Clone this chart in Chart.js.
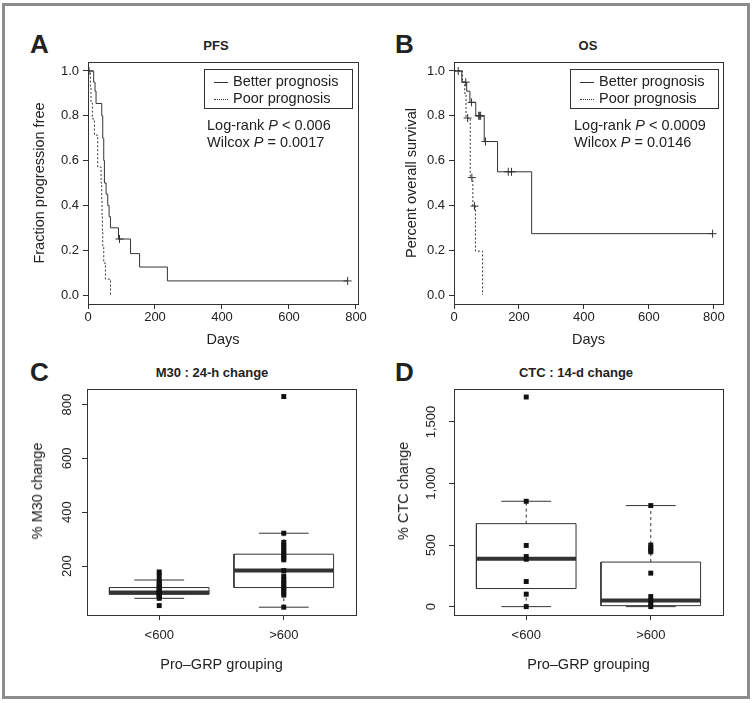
<!DOCTYPE html>
<html lang="en">
<head>
<meta charset="UTF-8">
<title>Pro-GRP prognosis panels</title>
<script src="https://cdn.jsdelivr.net/npm/chart.js@4.4.0/dist/chart.umd.min.js"></script>
<style>
  body { margin: 0; background: #fff; font-family: 'Liberation Sans', Arial, sans-serif; color: #222; }
  #page { position: relative; width: 755px; height: 703px; overflow: hidden; }
  #frame { position: absolute; left: 2px; top: 3px; width: 742px; height: 690px; border: 3px solid #8c8c8c; }
  .panel { position: absolute; }
  .letter { position: absolute; font-weight: bold; font-size: 26px; line-height: 26px; }
  .ptitle { position: absolute; font-weight: bold; font-size: 13px; white-space: nowrap; transform: translate(-50%, -50%); }
  .legend { position: absolute; border: 1px solid #333; background: #fff; font-size: 14.5px; }
  .legend .row { position: absolute; left: 9px; line-height: 17px; white-space: nowrap; }
  .swatch { display: inline-block; width: 14px; border-top: 1px solid #333; vertical-align: middle; margin-right: 5px; }
  .swatch.dot { border-top-style: dotted; }
  .note { position: absolute; font-size: 14.5px; line-height: 17px; white-space: nowrap; }
  .ytitle { position: absolute; font-size: 14.5px; white-space: nowrap; transform: translate(-50%, -50%) rotate(-90deg); }
</style>
</head>
<body>
<div id="page">
  <div id="frame"></div>

  <div class="letter" style="left:30px;top:31px">A</div>
  <div class="letter" style="left:395px;top:31px">B</div>
  <div class="letter" style="left:30px;top:359px">C</div>
  <div class="letter" style="left:395px;top:359px">D</div>

  <div class="ptitle" style="left:216px;top:45px">PFS</div>
  <div class="ptitle" style="left:588px;top:45px">OS</div>
  <div class="ptitle" style="left:212px;top:372px">M30 : 24-h change</div>
  <div class="ptitle" style="left:576px;top:372px">CTC : 14-d change</div>

  <div class="panel" style="left:0;top:50px"><canvas id="pfs" width="377" height="300"></canvas></div>
  <div class="panel" style="left:377px;top:50px"><canvas id="os" width="378" height="300"></canvas></div>
  <div class="panel" style="left:0;top:350px"><canvas id="m30" width="377" height="353"></canvas></div>
  <div class="panel" style="left:377px;top:350px"><canvas id="ctc" width="378" height="353"></canvas></div>

  <div class="legend" style="left:204px;top:69px;width:147px;height:38px">
    <div class="row" style="top:3px"><span class="swatch"></span>Better prognosis</div>
    <div class="row" style="top:20px"><span class="swatch dot"></span>Poor prognosis</div>
  </div>
  <div class="note" style="left:207px;top:117px">Log-rank <i>P</i> &lt; 0.006</div>
  <div class="note" style="left:207px;top:134px">Wilcox <i>P</i> = 0.0017</div>

  <div class="legend" style="left:570px;top:69px;width:147px;height:38px">
    <div class="row" style="top:3px"><span class="swatch"></span>Better prognosis</div>
    <div class="row" style="top:20px"><span class="swatch dot"></span>Poor prognosis</div>
  </div>
  <div class="note" style="left:574px;top:117px">Log-rank <i>P</i> &lt; 0.0009</div>
  <div class="note" style="left:574px;top:134px">Wilcox <i>P</i> = 0.0146</div>

  <div class="ytitle" style="left:37px;top:491px">% M30 change</div>
  <div class="ytitle" style="left:403px;top:491px">% CTC change</div>
</div>

<script>
// ---- data ----
// PFS (panel A)
var pfsBetterDays = [0, 17, 21, 24, 41, 44, 47, 49, 54, 59, 63, 67, 91, 127, 154, 237, 775];
var pfsBetterSurv = [1, 0.95, 0.91, 0.855, 0.80, 0.70, 0.60, 0.50, 0.45, 0.40, 0.35, 0.30, 0.25, 0.185, 0.125, 0.063, 0.063];
var pfsBetterCensor = [3, 94, 775];
var pfsPoorDays = [0, 7, 9, 13, 19, 29, 39, 41, 42, 43, 44, 47, 52, 67];
var pfsPoorSurv = [1, 0.929, 0.857, 0.786, 0.714, 0.571, 0.5, 0.429, 0.357, 0.286, 0.214, 0.143, 0.071, 0];
var pfsPoorCensor = [];

// OS (panel B)
var osBetterDays = [0, 24, 39, 49, 67, 93, 134, 239, 796];
var osBetterSurv = [1, 0.95, 0.91, 0.86, 0.80, 0.685, 0.55, 0.274, 0.274];
var osBetterCensor = [13, 36, 54, 76, 79, 82, 97, 167, 177, 796];
var osPoorDays = [0, 26, 33, 37, 50, 58, 66, 88];
var osPoorSurv = [1, 0.95, 0.9, 0.79, 0.524, 0.397, 0.196, 0];
var osPoorCensor = [42, 55, 63];

var dayTicks = [0, 200, 400, 600, 800];
var survTicks = [0, 0.2, 0.4, 0.6, 0.8, 1.0];

// boxplots (panels C, D)
var groups = ['<600', '>600'];

var m30Lower = [80, 47];
var m30Q1 = [95, 120];
var m30Median = [102, 183];
var m30Q3 = [120, 244];
var m30Upper = [148, 322];
var m30Points = [
  [178, 165, 148, 140, 132, 125, 120, 113, 108, 104, 102, 100, 97, 95, 90, 85, 80, 53],
  [830, 322, 288, 278, 268, 258, 248, 238, 230, 223, 183, 163, 150, 140, 130, 120, 110, 100, 92, 47]
];
var m30Ticks = [200, 400, 600, 800];

var ctcLower = [0, 0];
var ctcQ1 = [147, 8];
var ctcMedian = [389, 49];
var ctcQ3 = [674, 362];
var ctcUpper = [856, 821];
var ctcPoints = [
  [1703, 856, 497, 407, 385, 204, 101, 0],
  [821, 500, 480, 460, 445, 272, 82, 49, 26, 0]
];
var ctcTicks = [0, 500, 1000, 1500];

// ---- helpers ----
var ink = '#333';
var font = { family: "'Liberation Sans', Arial, sans-serif", size: 13 };
var titleFont = { family: "'Liberation Sans', Arial, sans-serif", size: 14.5 };

function survAt(days, surv, t) {
  var s = surv[0];
  for (var i = 0; i < days.length; i++) {
    if (days[i] <= t) s = surv[i];
  }
  return s;
}

function curve(days, surv, dashed) {
  return {
    data: days.map(function (d, i) { return { x: d, y: surv[i] }; }),
    showLine: true, stepped: true, borderColor: ink, borderWidth: 1,
    borderDash: dashed ? [2, 2] : [], pointRadius: 0, order: 2
  };
}

function censors(days, surv, marks) {
  return {
    data: marks.map(function (t) { return { x: t, y: survAt(days, surv, t) }; }),
    pointStyle: 'cross', pointRadius: 4, borderColor: ink, borderWidth: 1, order: 1
  };
}

var framePlugin = {
  id: 'frame',
  afterDatasetsDraw: function (chart) {
    var a = chart.chartArea, ctx = chart.ctx;
    ctx.save();
    ctx.strokeStyle = ink;
    ctx.lineWidth = 1;
    ctx.strokeRect(Math.round(a.left) + 0.5, Math.round(a.top) + 0.5, Math.round(a.right - a.left), Math.round(a.bottom - a.top));
    ctx.restore();
  }
};

function fixedTicks(list) {
  return function (scale) { scale.ticks = list.map(function (v) { return { value: v }; }); };
}

var grid = { drawOnChartArea: false, drawTicks: true, tickLength: 5, color: ink };

function kmChart(id, datasets, xMax, yTitle, yWidth, yTitlePad, padRight) {
  return new Chart(document.getElementById(id), {
    type: 'scatter',
    data: { datasets: datasets },
    options: {
      responsive: false, animation: false, events: [],
      layout: { padding: { top: 12, right: padRight, left: 0, bottom: 0 } },
      plugins: { legend: { display: false }, tooltip: { enabled: false } },
      scales: {
        x: {
          type: 'linear', min: 0, max: xMax,
          afterBuildTicks: fixedTicks(dayTicks),
          afterFit: function (s) { s.height = 46; },
          grid: grid, border: { display: false },
          ticks: { font: font, color: '#222', padding: 1, maxRotation: 0, callback: function (v) { return v; } },
          title: { display: true, text: 'Days', font: titleFont, color: '#222', padding: { top: 0, bottom: 1 } }
        },
        y: {
          type: 'linear', min: -0.04, max: 1.04,
          afterBuildTicks: fixedTicks(survTicks),
          afterFit: function (s) { s.width = yWidth; },
          grid: grid, border: { display: false },
          ticks: { font: font, color: '#222', padding: 4, callback: function (v) { return (+v).toFixed(1); } },
          title: { display: true, text: yTitle, font: titleFont, color: '#222', padding: { top: yTitlePad, bottom: 0 } }
        }
      }
    },
    plugins: [framePlugin]
  });
}

function seg(points, width, dash) {
  return { data: points, showLine: true, borderColor: ink, borderWidth: width, borderDash: dash || [], pointRadius: 0, order: 3 };
}

function boxDatasets(lower, q1, med, q3, upper, points) {
  var sets = [];
  for (var g = 0; g < groups.length; g++) {
    var c = g + 1, hw = 0.4, sw = 0.2;
    sets.push(seg([{ x: c - hw, y: q1[g] }, { x: c + hw, y: q1[g] }, { x: c + hw, y: q3[g] }, { x: c - hw, y: q3[g] }, { x: c - hw, y: q1[g] }], 1));
    sets.push(seg([{ x: c, y: q3[g] }, { x: c, y: upper[g] }], 1, [3, 3]));
    sets.push(seg([{ x: c, y: lower[g] }, { x: c, y: q1[g] }], 1, [3, 3]));
    sets.push(seg([{ x: c - sw, y: upper[g] }, { x: c + sw, y: upper[g] }], 1));
    sets.push(seg([{ x: c - sw, y: lower[g] }, { x: c + sw, y: lower[g] }], 1));
    sets.push(seg([{ x: c - hw, y: med[g] }, { x: c + hw, y: med[g] }], 4));
    sets.push({
      data: points[g].map(function (v) { return { x: c, y: v }; }),
      pointStyle: 'rect', pointRadius: 3.5, backgroundColor: '#111', borderColor: '#111', borderWidth: 0, order: 0
    });
  }
  return sets;
}

function boxChart(id, datasets, yMin, yMax, ticks, fmt, yWidth, yPad, padRight) {
  return new Chart(document.getElementById(id), {
    type: 'scatter',
    data: { datasets: datasets },
    options: {
      responsive: false, animation: false, events: [],
      layout: { padding: { top: 39, right: padRight, left: 0, bottom: 0 } },
      plugins: { legend: { display: false }, tooltip: { enabled: false } },
      scales: {
        x: {
          type: 'linear', min: 0.42, max: 2.58,
          afterBuildTicks: fixedTicks(groups.map(function (g, i) { return i + 1; })),
          afterFit: function (s) { s.height = 88; },
          grid: grid, border: { display: false },
          ticks: { font: font, color: '#222', padding: 8, maxRotation: 0, callback: function (v) { return groups[Math.round(v) - 1]; } },
          title: { display: true, text: 'Pro\u2013GRP grouping', font: titleFont, color: '#222', padding: { top: 0, bottom: 29 } }
        },
        y: {
          type: 'linear', min: yMin, max: yMax,
          afterBuildTicks: fixedTicks(ticks),
          afterFit: function (s) { s.width = yWidth; },
          grid: grid, border: { display: false },
          ticks: { font: font, color: '#222', padding: yPad, minRotation: 90, maxRotation: 90, crossAlign: 'center', callback: fmt }
        }
      }
    },
    plugins: [framePlugin]
  });
}

kmChart('pfs', [
  censors(pfsBetterDays, pfsBetterSurv, pfsBetterCensor),
  censors(pfsPoorDays, pfsPoorSurv, pfsPoorCensor),
  curve(pfsBetterDays, pfsBetterSurv, false),
  curve(pfsPoorDays, pfsPoorSurv, true)
], 806, 'Fraction progression free', 88, 31, 19);

kmChart('os', [
  censors(osBetterDays, osBetterSurv, osBetterCensor),
  censors(osPoorDays, osPoorSurv, osPoorCensor),
  curve(osBetterDays, osBetterSurv, false),
  curve(osPoorDays, osPoorSurv, true)
], 828, 'Percent overall survival', 77, 26, 32);

boxChart('m30', boxDatasets(m30Lower, m30Q1, m30Median, m30Q3, m30Upper, m30Points),
  18, 858, m30Ticks, function (v) { return String(v); }, 87, 4, 21);

boxChart('ctc', boxDatasets(ctcLower, ctcQ1, ctcMedian, ctcQ3, ctcUpper, ctcPoints),
  -68, 1768, ctcTicks, function (v) { return Number(v).toLocaleString('en-US'); }, 77, 1, 32);
</script>
</body>
</html>
